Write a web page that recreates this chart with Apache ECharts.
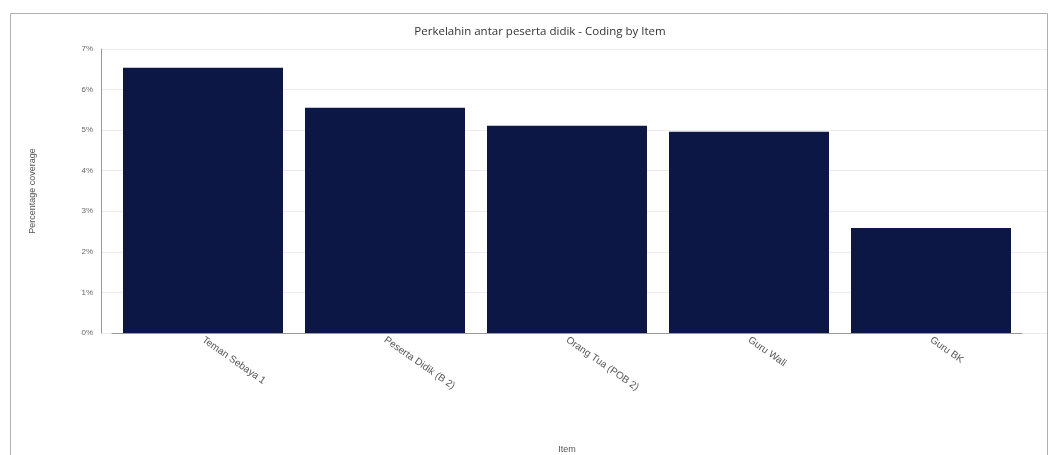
<!DOCTYPE html>
<html><head><meta charset="utf-8">
<script src="https://cdn.jsdelivr.net/npm/echarts@6/dist/echarts.min.js"></script>
<style>html,body{margin:0;padding:0;background:#fff}#c{width:1052px;height:455px}</style>
</head><body><div id="c"></div>
<script>
const categories = ["Teman Sebaya 1", "Peserta Didik (B 2)", "Orang Tua (POB 2)", "Guru Wali", "Guru BK"];
const values = [6.54, 5.55, 5.11, 4.96, 2.59];
const yTicks = [0, 1, 2, 3, 4, 5, 6, 7];

const chart = echarts.init(document.getElementById('c'));
chart.setOption({
  animation: false,
  backgroundColor: '#fff',
  graphic: [{
    type: 'rect', shape: {x: 10.5, y: 13.5, width: 1037, height: 460},
    style: {fill: 'none', stroke: '#b0b0b0', lineWidth: 1}
  }],
  title: {
    text: 'Perkelahin antar peserta didik - Coding by Item',
    left: 535, top: 21, textAlign: 'center',
    textStyle: {fontSize: 11.5, fontWeight: 'normal', color: '#333', fontFamily: 'Open Sans'}
  },
  grid: [
    {left: 112, right: 30, top: 49, bottom: 122, outerBoundsMode: 'none', containLabel: false},
    {left: 101, right: 5, top: 49, bottom: 122, outerBoundsMode: 'none', containLabel: false}
  ],
  xAxis: [{
    type: 'category', data: categories, gridIndex: 0,
    name: 'Item', nameLocation: 'middle', nameGap: 112,
    nameTextStyle: {fontSize: 9, color: '#555'},
    axisLine: {lineStyle: {color: '#999'}},
    axisTick: {show: false},
    axisLabel: {rotate: -35, fontSize: 10, color: '#555', margin: 6, interval: 0}
  }, {
    type: 'value', gridIndex: 1, show: false
  }],
  yAxis: [{
    type: 'value', min: 0, max: 7, interval: 1, offset: 11, gridIndex: 0,
    name: 'Percentage coverage', nameLocation: 'middle', nameGap: 64,
    nameTextStyle: {fontSize: 9, color: '#555'},
    axisLine: {show: true, lineStyle: {color: '#999'}},
    axisTick: {show: false},
    axisLabel: {fontSize: 8, color: '#666', formatter: v => yTicks.includes(v) ? v + '%' : ''},
    splitLine: {show: false}
  }, {
    type: 'value', min: 0, max: 7, interval: 1, gridIndex: 1,
    axisLine: {show: false}, axisTick: {show: false}, axisLabel: {show: false},
    splitLine: {lineStyle: {color: '#ececec'}}
  }],
  series: [{
    type: 'bar', data: values, barWidth: 160, xAxisIndex: 0, yAxisIndex: 0,
    itemStyle: {color: '#0c1745'}
  }]
});
</script></body></html>
